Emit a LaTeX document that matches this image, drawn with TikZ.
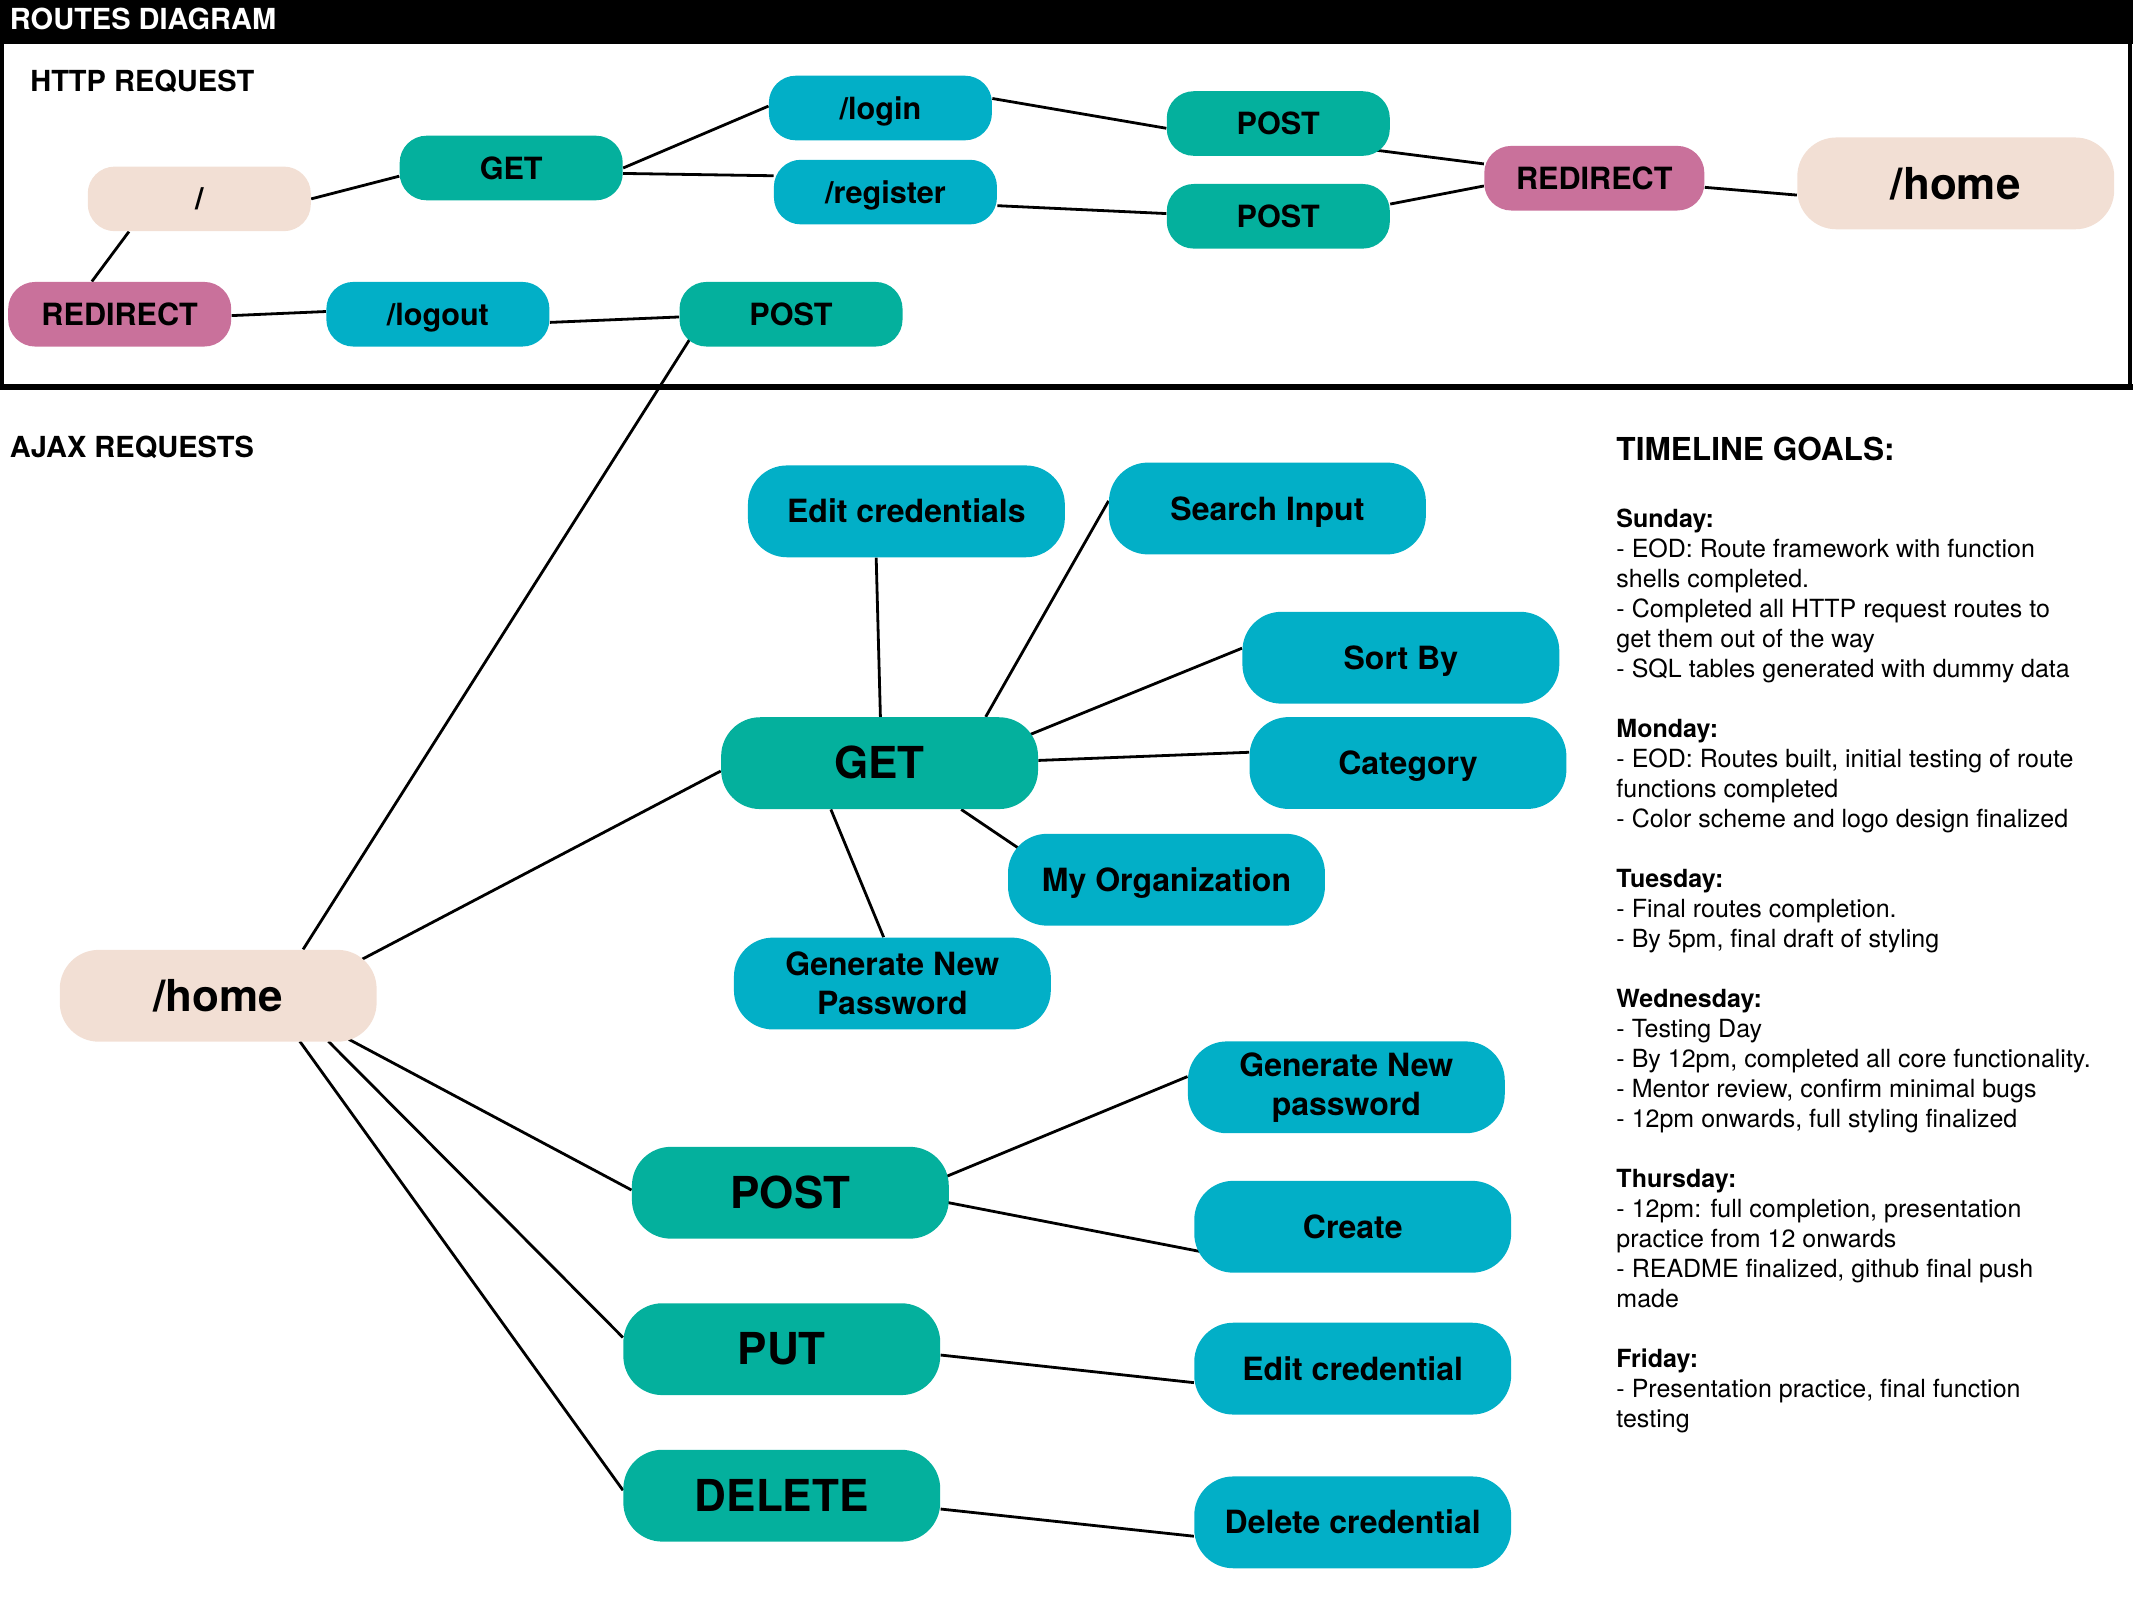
\documentclass[tikz,border=0pt]{standalone}
\usepackage{fontspec}
\setmainfont{TeX Gyre Heros}
\usetikzlibrary{calc,backgrounds}
\definecolor{cteal}{HTML}{04B09D}
\definecolor{ccyan}{HTML}{02AFC7}
\definecolor{cpink}{HTML}{C9719B}
\definecolor{cbeige}{HTML}{F2DFD4}
\tikzset{
  nd/.style={inner sep=0pt, align=center, text=black},
  sm/.style={nd, minimum width=111.5pt, minimum height=32.3pt, rounded corners=13.5pt,
    font=\bfseries\fontsize{15.3}{18}\selectfont, text height=11pt, text depth=0pt},
  lg/.style={nd, minimum width=158.4pt, minimum height=45.9pt, rounded corners=19.5pt,
    font=\bfseries\fontsize{22}{26}\selectfont, text height=15.8pt, text depth=0pt},
  md/.style={nd, minimum width=158.4pt, minimum height=45.9pt, rounded corners=19.5pt,
    font=\bfseries\fontsize{16}{19.5}\selectfont},
  mdone/.style={md, text height=11.5pt, text depth=0pt},
  teal/.style={fill=cteal},
  cyan/.style={fill=ccyan},
  pink/.style={fill=cpink},
  beige/.style={fill=cbeige},
  conn/.style={line width=1.4pt, black},
  heading/.style={anchor=base west, inner sep=0pt, font=\bfseries\fontsize{14.5}{17}\selectfont},
}
\begin{document}
\begin{tikzpicture}[x=0.68pt, y=-0.68pt]
\useasboundingbox (0,0) rectangle (1568,1176.2);
% header
\fill[black] (0,0) rectangle (1568,32);
\node[heading, text=white] (title) at (7,21.7) {ROUTES DIAGRAM};
% HTTP frame
\draw[line width=2pt] (1.3,31) rectangle (1566,284.5);
\draw[line width=3pt] (0,284.5) -- (1568,284.5);
\node[heading] (httpl) at (22,67.5) {HTTP REQUEST};
\node[heading] (ajaxl) at (7,336.5) {AJAX REQUESTS};

% HTTP nodes
\node[sm, beige] (slash) at (146.5,146.2) {/};
\node[sm, teal] (get1) at (375.8,123.5) {GET};
\node[sm, cyan] (login) at (647.2,79.4) {/login};
\node[sm, cyan] (register) at (650.9,141.2) {/register};
\node[sm, teal] (post1) at (939.7,90.8) {POST};
\node[sm, teal] (post2) at (939.7,159) {POST};
\node[sm, pink, minimum width=110pt] (redir1) at (1172,131) {REDIRECT};
\node[lg, beige] (home1) at (1437.7,134.8) {/home};
\node[sm, pink] (redir2) at (88,231) {REDIRECT};
\node[sm, cyan] (logout) at (321.9,231) {/logout};
\node[sm, teal] (post3) at (581.5,231) {POST};

% AJAX nodes
\node[lg, beige] (home2) at (160.4,732) {/home};
\node[lg, teal] (get2) at (646.6,561) {GET};
\node[mdone, cyan] (editcs) at (666.3,375.9) {Edit credentials};
\node[mdone, cyan] (search) at (931.7,373.8) {Search Input};
\node[mdone, cyan] (sortby) at (1029.8,483.5) {Sort By};
\node[mdone, cyan] (category) at (1035,560.9) {Category};
\node[mdone, cyan] (myorg) at (857.5,646.7) {My Organization};
\node[md, cyan] (gnp1) at (656,723) {Generate New\\Password};
\node[lg, teal] (post4) at (581,876.8) {POST};
\node[md, cyan] (gnp2) at (989.7,799.3) {Generate New\\password};
\node[mdone, cyan] (create) at (994.4,901.8) {Create};
\node[lg, teal] (put) at (574.7,991.8) {PUT};
\node[mdone, cyan] (editc) at (994.4,1006.1) {Edit credential};
\node[lg, teal] (delete) at (574.7,1099.5) {DELETE};
\node[mdone, cyan] (delc) at (994.4,1119.1) {Delete credential};

% timeline
\node[heading, font=\bfseries\fontsize{15.8}{18}\selectfont] (tlhead) at (1188,338.4) {TIMELINE GOALS:};
\node[anchor=base west, inner sep=0pt, font=\fontsize{12.5}{15}\selectfont] (tlbody) at (1188,387.5) {\parbox[t]{330pt}{\raggedright
\textbf{Sunday:}\\
- EOD: Route framework with function\\
shells completed.\\
- Completed all HTTP request routes to\\
get them out of the way\\
- SQL tables generated with dummy data\\[15pt]
\textbf{Monday:}\\
- EOD: Routes built, initial testing of route\\
functions completed\\
- Color scheme and logo design finalized\\[15pt]
\textbf{Tuesday:}\\
- Final routes completion.\\
- By 5pm, final draft of styling\\[15pt]
\textbf{Wednesday:}\\
- Testing Day\\
- By 12pm, completed all core functionality.\\
- Mentor review, confirm minimal bugs\\
- 12pm onwards, full styling finalized\\[15pt]
\textbf{Thursday:}\\
- 12pm: full completion, presentation\\
practice from 12 onwards\\
- README finalized, github final push\\
made\\[15pt]
\textbf{Friday:}\\
- Presentation practice, final function\\
testing}};

% connectors
\begin{pgfonlayer}{background}
\draw[conn] (slash.east) -- ($(get1.west)+(0,6)$);
\draw[conn] (get1.east) -- ($(login.west)+(0,-1.4)$);
\draw[conn] ($(get1.east)+(0,4)$) -- ($(register.west)+(0,-12)$);
\draw[conn] ($(login.east)+(0,-7)$) -- ($(post1.west)+(0,3.5)$);
\draw[conn] ($(register.east)+(0,10)$) -- ($(post2.west)+(0,-2)$);
\draw[conn] ($(post1)+(71,19.5)$) -- ($(redir1.west)+(0,-10.5)$);
\draw[conn] ($(post2.east)+(0,-9)$) -- ($(redir1.west)+(0,5.7)$);
\draw[conn] ($(redir1.east)+(0,6.7)$) -- ($(home1.west)+(0,8.6)$);
\draw[conn] ($(slash.south)+(-51.7,0)$) -- ($(redir2.north)+(-20.5,0)$);
\draw[conn] ($(redir2.east)+(0,1)$) -- ($(logout.west)+(0,-2)$);
\draw[conn] ($(logout.east)+(0,6)$) -- ($(post3.west)+(0,2)$);
\draw[conn] ($(post3)+(-74,17.7)$) -- ($(home2.north)+(62.4,0)$);
\draw[conn] ($(home2)+(104.2,-26)$) -- ($(get2.west)+(0,5.8)$);
\draw[conn] ($(home2)+(96,32)$) -- ($(post4.west)+(0,-2)$);
\draw[conn] ($(home2)+(81,33.5)$) -- ($(put.west)+(0,-8.6)$);
\draw[conn] ($(home2)+(60,33.5)$) -- ($(delete.west)+(0,-4)$);
\draw[conn] ($(get2.north)+(0.6,0)$) -- ($(editcs.south)+(-22.2,0)$);
\draw[conn] ($(get2.north)+(78,0)$) -- ($(search.west)+(0,-5.6)$);
\draw[conn] ($(get2)+(109.8,-20.7)$) -- ($(sortby.west)+(0,-7)$);
\draw[conn] ($(get2.east)+(0,-2)$) -- ($(category.west)+(0,-7.9)$);
\draw[conn] ($(get2.south)+(60,0)$) -- ($(myorg)+(-107.9,-22.6)$);
\draw[conn] ($(get2.south)+(-35.8,0)$) -- ($(gnp1.north)+(-6.4,0)$);
\draw[conn] ($(post4)+(114,-11.7)$) -- ($(gnp2.west)+(0,-7.9)$);
\draw[conn] ($(post4)+(112.6,6.6)$) -- ($(create)+(-111,18.4)$);
\draw[conn] ($(put.east)+(0,4.3)$) -- ($(editc.west)+(0,10.3)$);
\draw[conn] ($(delete.east)+(0,9.8)$) -- ($(delc.west)+(0,10.2)$);
\end{pgfonlayer}
\end{tikzpicture}
\end{document}
